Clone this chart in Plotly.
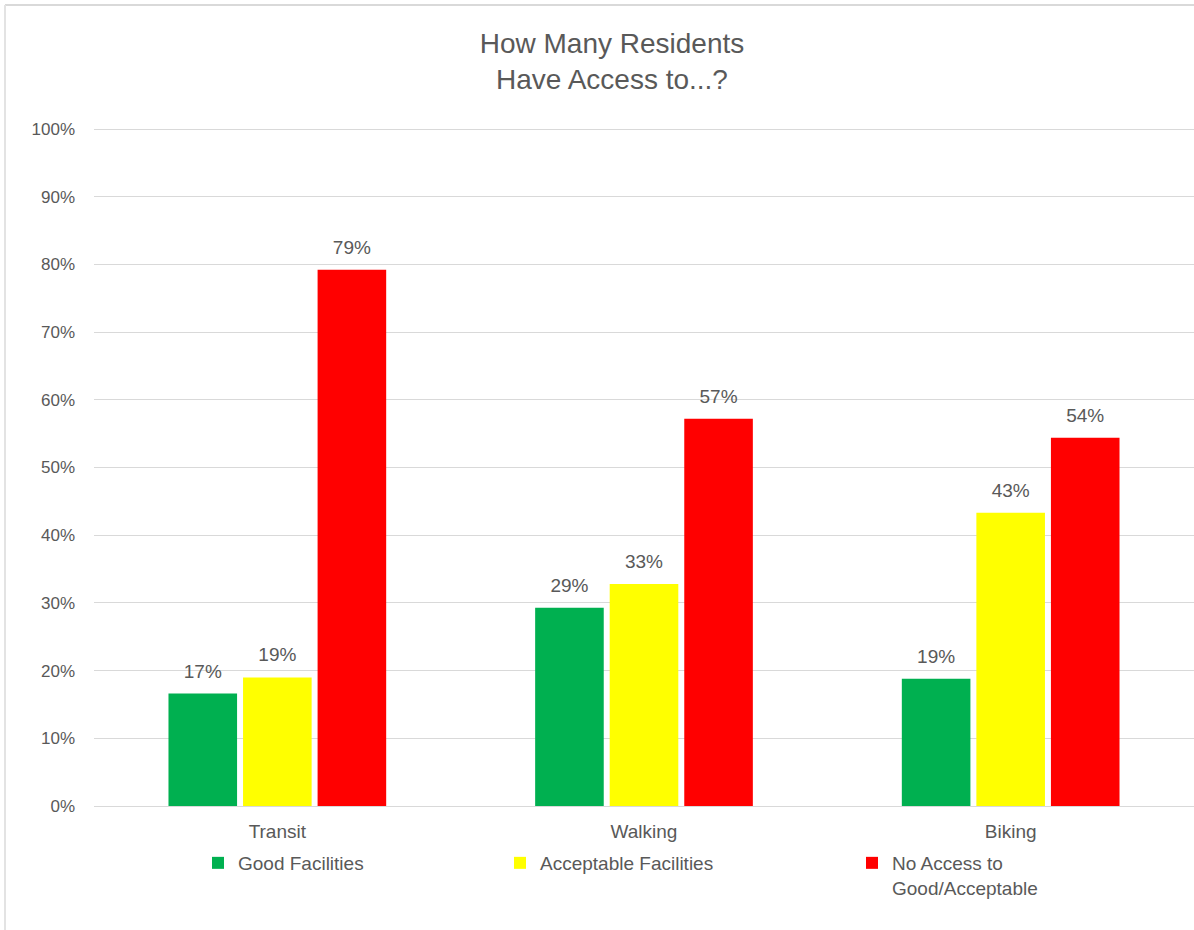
import plotly.graph_objects as go

categories = ["Transit", "Walking", "Biking"]
series_names = ["Good Facilities", "Acceptable Facilities", "No Access to<br>Good/Acceptable"]
good = [16.6, 29.3, 18.8]
acceptable = [19.0, 32.8, 43.3]
no_access = [79.2, 57.2, 54.4]
y_ticks = [0, 10, 20, 30, 40, 50, 60, 70, 80, 90, 100]
y_tick_labels = ["0%", "10%", "20%", "30%", "40%", "50%", "60%", "70%", "80%", "90%", "100%"]
colors = ["#00B050", "#FFFF00", "#FF0000"]

W, H = 1194, 930
L, R, T, B = 94, 0, 127, 124
PW, PH = W - L - R, H - T - B

def px_x(x):
    return (x - L) / PW

def px_y(y):
    return (H - B - y) / PH

grey = "#595959"
font_family = "Liberation Sans, Arial, sans-serif"

spacer = "<span style='font-size:60px'>\u00a0</span>"

fig = go.Figure()
legend_names = ["legend", "legend2", "legend3"]
for name, vals, col, lg in zip(series_names, [good, acceptable, no_access], colors, legend_names):
    fig.add_trace(go.Bar(
        x=categories, y=vals, name=name, marker=dict(color=col, line=dict(width=0)),
        text=vals,
        texttemplate=spacer + "%{y:.0f}%" + spacer,
        textposition="outside", constraintext="none",
        textfont=dict(color=grey, size=19, family=font_family),
        cliponaxis=False, legend=lg,
    ))

leg_common = dict(orientation="h", bgcolor="rgba(0,0,0,0)", yanchor="top", valign="top",
                  font=dict(size=19, color=grey, family=font_family), xanchor="left")

fig.update_layout(
    width=W, height=H,
    margin=dict(l=L, r=R, t=T, b=B),
    paper_bgcolor="white", plot_bgcolor="white",
    barmode="group", bargap=0.39, bargroupgap=0.08,
    title=dict(text="How Many Residents<br>Have Access to...?", x=612 / W, xanchor="center",
               y=1 - 53 / H, yanchor="middle",
               font=dict(size=28, color=grey, family=font_family)),
    font=dict(family=font_family, color=grey),
    legend=dict(x=px_x(198), y=px_y(844), **leg_common),
    legend2=dict(x=px_x(500), y=px_y(844), **leg_common),
    legend3=dict(x=px_x(852), y=px_y(844), **leg_common),
    xaxis=dict(showgrid=False, showline=True, linecolor="#d9d9d9", linewidth=1,
               tickfont=dict(size=19, color=grey), ticks="", ticklabelstandoff=8),
    yaxis=dict(range=[0, 100.3], tickvals=y_ticks, ticktext=y_tick_labels, showgrid=True,
               gridcolor="#d9d9d9", gridwidth=1, zeroline=False, showline=False,
               tickfont=dict(size=17, color=grey), ticks="", ticklabelstandoff=18),
    showlegend=True,
    shapes=[
        dict(type="line", xref="paper", yref="paper", x0=px_x(5), x1=px_x(1194), y0=px_y(5), y1=px_y(5),
             line=dict(color="#d9d9d9", width=2)),
        dict(type="line", xref="paper", yref="paper", x0=px_x(5), x1=px_x(5), y0=px_y(5), y1=px_y(930),
             line=dict(color="#e3e3e3", width=2)),
    ],
)

fig.write_html("out.html", config={"displayModeBar": False},
               post_script="document.body.style.margin='0';")
